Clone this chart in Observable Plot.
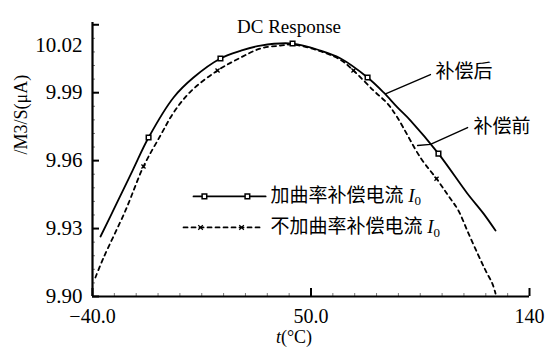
<!DOCTYPE html>
<html><head><meta charset="utf-8">
<script src="https://cdn.jsdelivr.net/npm/d3@7"></script>
<script src="https://cdn.jsdelivr.net/npm/@observablehq/plot@0.6"></script>
<style>body{margin:0;background:#fff;}</style>
</head><body><div id="chart"></div>
<script>
// ---- data ----
const tAfter = [-36.7,-30.1,-23.5,-16.9,-6.6,1.6,12.7,21.0,29.2,42.4,53.9,62.2,73.3,79.9,85.6,91.0,102.5,114.4,121.0,126.0];
const iAfter = [9.9265,9.941,9.9556,9.9702,9.9879,9.9967,10.0051,10.0085,10.0108,10.0117,10.0086,10.0051,9.9967,9.9901,9.9835,9.9777,9.9631,9.9455,9.9367,9.9291];
const markerIdxAfter = [3,6,9,12,16];

const tBefore = [-38.8,-35.5,-26.4,-19.0,-12.0,-6.6,0.4,11.5,21.0,29.2,37.4,42.4,53.9,62.2,67.5,75.7,81.5,85.6,95.1,101.7,106.6,110.7,114.4,118.6,121.9,124.7,126.0];
const iBefore = [9.9084,9.917,9.938,9.9574,9.9711,9.9812,9.9905,9.9998,10.0055,10.0095,10.0108,10.0113,10.0083,10.0045,9.9998,9.991,9.9852,9.979,9.9613,9.952,9.9445,9.938,9.929,9.919,9.9115,9.9057,9.9013];
const markerIdxBefore = [3,7,14,19];

const xTicks = [-40, 50, 140];
const xTickLabels = ["\u221240.0", "50.0", "140"];
const yTicks = [9.90, 9.93, 9.96, 9.99, 10.02];
const yTickLabels = ["9.90", "9.93", "9.96", "9.99", "10.02"];

const titleText = "DC Response";
const yLabelText = "/M3/S(\u03bcA)";
const xLabelText = "t(\u00b0C)";
const seriesNames = ["加曲率补偿电流 I0", "不加曲率补偿电流 I0"];
const annoNames = ["补偿后", "补偿前"];

// ---- build tables ----
const after = tAfter.map((t, i) => ({t, v: iAfter[i]}));
const before = tBefore.map((t, i) => ({t, v: iBefore[i]}));
const afterMarks = markerIdxAfter.map(i => after[i]);
const beforeMarks = markerIdxBefore.map(i => before[i]);

const xMinor = d3.range(-40, 140.01, 9);
const yMinor = d3.range(0, 21).map(k => 9.90 + k * 0.006);

// annotation / legend geometry (data units)
const annoAfterLine = [{t: 80.7, v: 9.9895}, {t: 99.2, v: 9.998}];
const annoBeforeLine = [{t: 93.9, v: 9.9667}, {t: 99.2, v: 9.9672}, {t: 114.5, v: 9.9746}];
const annoLabels = [{t: 101.3, v: 9.9990, s: annoNames[0]}, {t: 116.9, v: 9.9750, s: annoNames[1]}];
const legLine1 = [{t: 1.6, v: 9.9442}, {t: 31.3, v: 9.9442}];
const legMark1 = [{t: 6.1, v: 9.9442}, {t: 23.8, v: 9.9442}];
const legLine2 = [{t: -2.5, v: 9.9305}, {t: 30.0, v: 9.9305}];
const legMark2 = [{t: 4.5, v: 9.9305}, {t: 21.4, v: 9.9305}];
const legLabels = [{t: 33.3, v: 9.9446, s: seriesNames[0]}, {t: 33.3, v: 9.9309, s: seriesNames[1]}];

const serif = "'Liberation Serif', 'Noto Sans CJK SC', serif";
const fmt = (ticks, labels) => d => labels[ticks.findIndex(x => Math.abs(x - d) < 1e-9)];

const plot = Plot.plot({
  width: 549, height: 350,
  marginLeft: 92, marginRight: 20, marginTop: 22, marginBottom: 54,
  x: {domain: [-40, 140]},
  y: {domain: [9.90, 10.021]},
  style: {fontFamily: serif, background: "white", color: "black", overflow: "visible"},
  marks: [
    // minor ticks
    Plot.axisX({ticks: xMinor, tickSize: -3, text: null, label: null, stroke: "#555", strokeWidth: 0.8}),
    Plot.axisY({ticks: yMinor, tickSize: -3, text: null, label: null, stroke: "#555", strokeWidth: 0.8}),
    // major ticks
    Plot.axisX({ticks: xTicks, tickSize: -8, text: null, label: null, strokeWidth: 2}),
    Plot.axisY({ticks: yTicks, tickSize: -7, text: null, label: null, strokeWidth: 2}),
    // tick labels
    Plot.axisX({ticks: xTicks, tickSize: 0, tickPadding: 12, tickFormat: fmt(xTicks, xTickLabels), label: null, fontSize: 20, letterSpacing: "0.8px"}),
    Plot.axisY({ticks: yTicks.slice(0, 4), tickSize: 0, tickPadding: 10, tickFormat: fmt(yTicks, yTickLabels), label: null, fontSize: 21, letterSpacing: "1px"}),
    Plot.axisY({ticks: [yTicks[4]], tickSize: 0, tickPadding: 10, tickFormat: fmt(yTicks, yTickLabels), label: null, fontSize: 21, letterSpacing: "1px", dy: 21}),
    // axis lines
    Plot.ruleX([-40], {strokeWidth: 2.2}),
    Plot.ruleY([9.90], {strokeWidth: 2.2}),
    // curves
    Plot.line(before, {x: "t", y: "v", stroke: "black", strokeWidth: 1.8, strokeDasharray: "4,4", curve: "catmull-rom"}),
    Plot.dot(beforeMarks, {x: "t", y: "v", symbol: "times", r: 2, stroke: "black", strokeWidth: 1.3}),
    Plot.line(after, {x: "t", y: "v", stroke: "black", strokeWidth: 1.8, curve: "catmull-rom"}),
    Plot.dot(afterMarks, {x: "t", y: "v", symbol: "square", r: 2.6, fill: "white", stroke: "black", strokeWidth: 1.5}),
    // annotations
    Plot.line(annoAfterLine, {x: "t", y: "v", stroke: "black", strokeWidth: 1.4}),
    Plot.line(annoBeforeLine, {x: "t", y: "v", stroke: "black", strokeWidth: 1.4}),
    Plot.text(annoLabels, {x: "t", y: "v", text: "s", textAnchor: "start", fontSize: 19, fontFamily: "'Noto Sans CJK SC', sans-serif"}),
    // legend
    Plot.line(legLine1, {x: "t", y: "v", stroke: "black", strokeWidth: 1.8}),
    Plot.dot(legMark1, {x: "t", y: "v", symbol: "square", r: 2.6, fill: "white", stroke: "black", strokeWidth: 1.5}),
    Plot.line(legLine2, {x: "t", y: "v", stroke: "black", strokeWidth: 1.8, strokeDasharray: "4,4"}),
    Plot.dot(legMark2, {x: "t", y: "v", symbol: "times", r: 2.2, stroke: "black", strokeWidth: 1.3}),
    Plot.text(legLabels, {x: "t", y: "v", text: "s", textAnchor: "start", fontSize: 19, className: "leg"}),
    // titles
    Plot.text([titleText], {frameAnchor: "top", dx: -22, dy: -3, fontSize: 19, text: d => d}),
    Plot.text([yLabelText], {frameAnchor: "left", rotate: -90, dx: -71, dy: -5, fontSize: 18, text: d => d}),
    Plot.text([xLabelText], {frameAnchor: "bottom", dx: -17, dy: 46, fontSize: 18, text: d => d, className: "xlab"})
  ]
});

document.getElementById("chart").appendChild(plot);

// rich text: italic I with subscript 0, italic t
d3.select(plot).selectAll(".leg text").each(function() {
  const s = d3.select(this).text();
  const base = s.replace(/I0$/, "");
  const el = d3.select(this).text(null);
  el.append("tspan").text(base);
  el.append("tspan").attr("font-style", "italic").text("I");
  el.append("tspan").attr("font-size", 13).attr("dy", "0.3em").text("0");
});
d3.select(plot).selectAll(".xlab text").each(function() {
  const s = d3.select(this).text();
  const el = d3.select(this).text(null);
  el.append("tspan").attr("font-style", "italic").text(s[0]);
  el.append("tspan").text(s.slice(1));
});
</script>
</body></html>
